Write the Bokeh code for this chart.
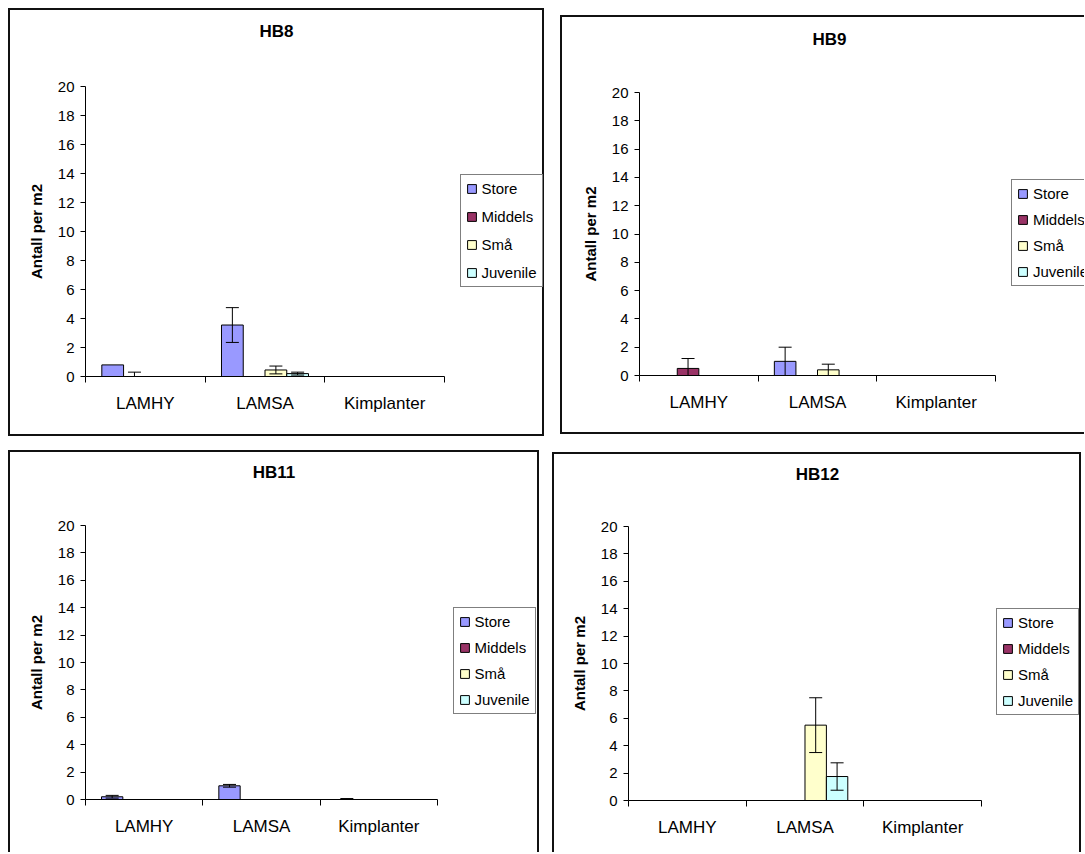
from bokeh.plotting import figure
from bokeh.models import Range1d, FixedTicker, Legend, LegendItem, Label, Spacer
from bokeh.layouts import row, column
from bokeh.embed import file_html
from bokeh.resources import INLINE

# ---------------- data ----------------
categories = ["LAMHY", "LAMSA", "Kimplanter"]
series = ["Store", "Middels", "Små", "Juvenile"]
colors = ["#9999FF", "#993366", "#FFFFCC", "#CCFFFF"]
y_ticks = [0, 2, 4, 6, 8, 10, 12, 14, 16, 18, 20]
y_title = "Antall per m2"

# HB8
hb8_store = [0.8, 3.55, 0.0]
hb8_middels = [0.0, 0.0, 0.0]
hb8_sma = [0.0, 0.45, 0.0]
hb8_juvenile = [0.0, 0.2, 0.0]
hb8_store_err = [0.0, 1.2, 0.0]
hb8_middels_err = [0.3, 0.0, 0.0]
hb8_sma_err = [0.0, 0.27, 0.0]
hb8_juvenile_err = [0.0, 0.1, 0.0]

# HB9
hb9_store = [0.0, 1.0, 0.0]
hb9_middels = [0.5, 0.0, 0.0]
hb9_sma = [0.0, 0.4, 0.0]
hb9_juvenile = [0.0, 0.0, 0.0]
hb9_store_err = [0.0, 1.0, 0.0]
hb9_middels_err = [0.7, 0.0, 0.0]
hb9_sma_err = [0.0, 0.4, 0.0]
hb9_juvenile_err = [0.0, 0.0, 0.0]

# HB11
hb11_store = [0.2, 1.0, 0.0]
hb11_middels = [0.0, 0.0, 0.0]
hb11_sma = [0.0, 0.0, 0.0]
hb11_juvenile = [0.0, 0.0, 0.0]
hb11_store_err = [0.1, 0.1, 0.07]
hb11_middels_err = [0.0, 0.0, 0.0]
hb11_sma_err = [0.0, 0.0, 0.0]
hb11_juvenile_err = [0.0, 0.0, 0.0]

# HB12
hb12_store = [0.0, 0.0, 0.0]
hb12_middels = [0.0, 0.0, 0.0]
hb12_sma = [0.0, 5.5, 0.0]
hb12_juvenile = [0.0, 1.75, 0.0]
hb12_store_err = [0.0, 0.0, 0.0]
hb12_middels_err = [0.0, 0.0, 0.0]
hb12_sma_err = [0.0, 2.0, 0.0]
hb12_juvenile_err = [0.0, 1.0, 0.0]

FONT = "Liberation Sans"
NCAT = len(categories)
YMAX = y_ticks[-1]


def make_panel(name, vals, errs, W, H, x0px, x3px, ytop, ybot, tx, ty,
               leg_left, leg_bottom, spacing, shadow):
    # frame covers the whole panel; axes are pinned at data 0 with fixed_location
    kx = (x3px - x0px) / NCAT
    ky = (ybot - ytop) / YMAX
    xr = Range1d(-x0px / kx, NCAT + (W - x3px) / kx)
    yr = Range1d(-(H - ybot) / ky, YMAX + ytop / ky)
    p = figure(width=W, height=H, x_range=xr, y_range=yr,
               output_backend="svg", toolbar_location=None, tools="",
               min_border=0)
    p.border_fill_color = None
    p.background_fill_color = None
    p.outline_line_color = None
    p.grid.visible = False
    p.styles = {"box-shadow": shadow}

    n = len(series)
    slot = 1.0 / (n + 1.5)
    renderers = []
    ex, elo, ehi, capx, capy = [], [], [], [], []
    for i, s in enumerate(series):
        xs = [j + slot * (0.75 + 0.5 + i) for j in range(NCAT)]
        r = p.vbar(x=xs, top=vals[i], bottom=0, width=slot,
                   fill_color=colors[i], line_color="black", line_width=1)
        renderers.append(r)
        for j in range(NCAT):
            e = errs[i][j]
            if e > 0:
                lo = vals[i][j] - e
                hi = vals[i][j] + e
                ex.append(xs[j])
                ehi.append(hi)
                capx.append(xs[j])
                capy.append(hi)
                if lo >= 0:
                    elo.append(lo)
                    capx.append(xs[j])
                    capy.append(lo)
                else:
                    elo.append(0)
    if ex:
        p.segment(x0=ex, y0=elo, x1=ex, y1=ehi, line_color="black", line_width=1)
        p.scatter(x=capx, y=capy, marker="dash", size=13,
                  line_color="black", line_width=1)

    xa = p.xaxis[0]
    xa.fixed_location = 0
    xa.bounds = (0, NCAT)
    xa.ticker = FixedTicker(ticks=[j + 0.5 for j in range(NCAT)],
                            minor_ticks=list(range(NCAT + 1)))
    xa.major_label_overrides = {j + 0.5: c for j, c in enumerate(categories)}
    xa.major_tick_out = 0
    xa.major_tick_in = 0
    xa.minor_tick_out = 6
    xa.minor_tick_in = 0
    xa.minor_tick_line_color = "black"
    xa.axis_line_color = "black"
    xa.major_label_standoff = 11
    xa.major_label_text_font = FONT
    xa.major_label_text_font_size = "17px"
    xa.major_label_text_color = "black"

    ya = p.yaxis[0]
    ya.fixed_location = 0
    ya.bounds = (0, YMAX)
    ya.ticker = FixedTicker(ticks=y_ticks)
    ya.major_tick_out = 5
    ya.major_tick_in = 0
    ya.minor_tick_out = 0
    ya.minor_tick_in = 0
    ya.major_tick_line_color = "black"
    ya.axis_line_color = "black"
    ya.major_label_standoff = 6
    ya.major_label_text_font = FONT
    ya.major_label_text_font_size = "15px"
    ya.major_label_text_color = "black"
    ya.axis_label = y_title
    ya.axis_label_text_font = FONT
    ya.axis_label_text_font_size = "15px"
    ya.axis_label_text_font_style = "bold"
    ya.axis_label_text_color = "black"
    ya.axis_label_standoff = 10

    title = Label(x=tx, y=H - ty, x_units="screen", y_units="screen",
                  text=name, text_font=FONT, text_font_size="17px", text_font_style="bold",
                  text_color="black", text_align="center", text_baseline="middle")
    p.add_layout(title)

    legend = Legend(items=[LegendItem(label=s, renderers=[r]) for s, r in zip(series, renderers)],
                    location=(leg_left, H - leg_bottom), orientation="vertical",
                    label_text_font=FONT, label_text_font_size="15px", label_text_color="black",
                    glyph_width=11, glyph_height=11, label_standoff=5, spacing=spacing,
                    padding=5, margin=0, border_line_color="black", border_line_width=1,
                    background_fill_color="white", background_fill_alpha=1.0)
    p.add_layout(legend, "center")
    return p


Ls = "inset 2px 0 0 0 #111"
Ts = "inset 0 2px 0 0 #111"
Rs = "inset -2px 0 0 0 #111"
Bs = "inset 0 -2px 0 0 #111"

p1 = make_panel("HB8",
                [hb8_store, hb8_middels, hb8_sma, hb8_juvenile],
                [hb8_store_err, hb8_middels_err, hb8_sma_err, hb8_juvenile_err],
                536, 428, 77, 436, 78, 368, 268, 23, 451.5, 279, 11,
                ", ".join([Ls, Ts, Rs, Bs]))
p2 = make_panel("HB9",
                [hb9_store, hb9_middels, hb9_sma, hb9_juvenile],
                [hb9_store_err, hb9_middels_err, hb9_sma_err, hb9_juvenile_err],
                524, 419, 79, 435, 77, 360, 269, 24, 451, 271, 9,
                ", ".join([Ls, Ts, Bs]))
p3 = make_panel("HB11",
                [hb11_store, hb11_middels, hb11_sma, hb11_juvenile],
                [hb11_store_err, hb11_middels_err, hb11_sma_err, hb11_juvenile_err],
                531, 402, 77, 429, 75, 349, 265.5, 22, 444.5, 264, 9,
                ", ".join([Ls, Ts, Rs]))
p4 = make_panel("HB12",
                [hb12_store, hb12_middels, hb12_sma, hb12_juvenile],
                [hb12_store_err, hb12_middels_err, hb12_sma_err, hb12_juvenile_err],
                529, 400, 76, 429, 74, 348, 265, 22, 444, 263, 9,
                ", ".join([Ls, Ts, Rs]))

top = row(p1, Spacer(width=16, height=10), column(Spacer(width=10, height=7), p2))
bottom = row(p3, Spacer(width=13, height=10), column(Spacer(width=10, height=2), p4))
inner = column(top, Spacer(width=10, height=14), bottom)
layout = column(Spacer(width=10, height=8), row(Spacer(width=8, height=10), inner))

open("out.html", "w").write(file_html(layout, INLINE))
